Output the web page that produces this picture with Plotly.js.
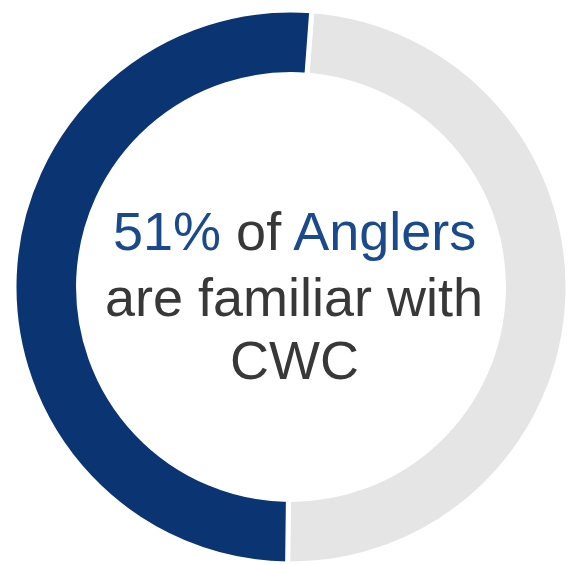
<!DOCTYPE html>
<html>
<head>
<meta charset="utf-8">
<script src="https://cdn.plot.ly/plotly-3.0.1.min.js"></script>
<style>html,body{margin:0;padding:0;background:#fff;}#chart{width:569px;height:565px;}</style>
</head>
<body>
<div id="chart"></div>
<script>
var labels = ["Not familiar", "Familiar with CWC"];
var values = [49, 51];
var colors = ["#e5e5e5", "#0b3472"];
var textLines = [
  '<span style="color:#1b4a8c">51%</span> of <span style="color:#1b4a8c">Anglers</span>',
  'are familiar with',
  'CWC'
];
var lineY = [231, 297, 360];

var W = 569, H = 565;
var data = [{
  type: "pie",
  labels: labels,
  values: values,
  hole: 0.767,
  sort: false,
  direction: "counterclockwise",
  rotation: 4.3,
  marker: {colors: colors, line: {color: "#ffffff", width: 5}},
  textinfo: "none",
  hoverinfo: "none",
  showlegend: false,
  domain: {x: [14/W, 568/W], y: [0, 556/H]}
}];

var annotations = textLines.map(function(t, i){
  return {
    text: t, xref: "paper", yref: "paper",
    x: 294/W, y: 1 - lineY[i]/H, xanchor: "center", yanchor: "middle",
    showarrow: false,
    font: {family: "Liberation Sans, Arial, sans-serif", size: 54, color: "#383838"}
  };
});

var layout = {
  width: W, height: H,
  margin: {l: 0, r: 0, t: 0, b: 0},
  paper_bgcolor: "#ffffff",
  showlegend: false,
  annotations: annotations
};
Plotly.newPlot("chart", data, layout, {displayModeBar: false, staticPlot: true});
</script>
</body>
</html>
